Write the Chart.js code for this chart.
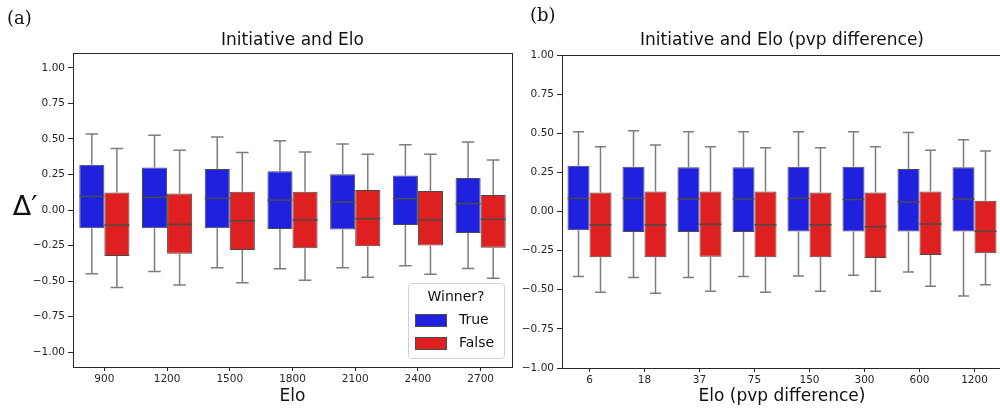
<!DOCTYPE html>
<html>
<head>
<meta charset="utf-8">
<script src="https://cdn.jsdelivr.net/npm/chart.js@4.4.1/dist/chart.umd.min.js"></script>
<style>
    html, body { margin: 0; padding: 0; background: #fff; overflow: hidden; }
    #wrap { position: relative; width: 1000px; height: 410px; overflow: hidden; }
    #eloCanvas { position: absolute; left: 0; top: 0; }
    #pvpCanvas { position: absolute; left: 520px; top: 0; }
</style>
</head>
<body>
<div id="wrap">
    <canvas id="eloCanvas" width="520" height="410"></canvas>
    <canvas id="pvpCanvas" width="490" height="410"></canvas>
</div>
<script>
// ---- panel (a): Elo buckets ----
const eloLabels = ["900", "1200", "1500", "1800", "2100", "2400", "2700"];
const eloTrueLow = [-0.449, -0.432, -0.406, -0.413, -0.406, -0.392, -0.411];
const eloTrueQ1  = [-0.129, -0.129, -0.129, -0.134, -0.138, -0.106, -0.162];
const eloTrueMed = [0.096, 0.089, 0.082, 0.070, 0.056, 0.080, 0.045];
const eloTrueQ3  = [0.319, 0.300, 0.289, 0.272, 0.251, 0.242, 0.225];
const eloTrueHigh = [0.535, 0.526, 0.514, 0.488, 0.465, 0.460, 0.479];
const eloFalseLow = [-0.545, -0.528, -0.512, -0.495, -0.474, -0.453, -0.481];
const eloFalseQ1  = [-0.324, -0.308, -0.282, -0.270, -0.256, -0.249, -0.265];
const eloFalseMed = [-0.106, -0.101, -0.075, -0.070, -0.061, -0.070, -0.066];
const eloFalseQ3  = [0.124, 0.117, 0.129, 0.129, 0.141, 0.134, 0.106];
const eloFalseHigh = [0.432, 0.420, 0.404, 0.408, 0.392, 0.392, 0.352];

// ---- panel (b): player-vs-player Elo difference buckets ----
const pvpLabels = ["6", "18", "37", "75", "150", "300", "600", "1200"];
const pvpTrueLow = [-0.416, -0.421, -0.421, -0.416, -0.412, -0.408, -0.387, -0.540];
const pvpTrueQ1  = [-0.120, -0.131, -0.131, -0.131, -0.127, -0.127, -0.127, -0.127];
const pvpTrueMed = [0.084, 0.084, 0.080, 0.080, 0.084, 0.076, 0.061, 0.080];
const pvpTrueQ3  = [0.293, 0.286, 0.282, 0.282, 0.286, 0.286, 0.272, 0.282];
const pvpTrueHigh = [0.510, 0.516, 0.510, 0.510, 0.510, 0.510, 0.504, 0.459];
const pvpFalseLow = [-0.516, -0.523, -0.510, -0.516, -0.510, -0.510, -0.478, -0.468];
const pvpFalseQ1  = [-0.293, -0.293, -0.289, -0.293, -0.293, -0.297, -0.278, -0.267];
const pvpFalseMed = [-0.085, -0.085, -0.082, -0.085, -0.085, -0.097, -0.080, -0.127];
const pvpFalseQ3  = [0.122, 0.127, 0.127, 0.127, 0.122, 0.122, 0.127, 0.069];
const pvpFalseHigh = [0.414, 0.425, 0.414, 0.408, 0.408, 0.414, 0.391, 0.387];

const eloYTicks = [1.0, 0.75, 0.5, 0.25, 0, -0.25, -0.5, -0.75, -1.0];
const pvpYTicks = [1.0, 0.75, 0.5, 0.25, 0, -0.25, -0.5, -0.75, -1.0];

const winnerLabels = ["True", "False"];
const winnerColors = ["rgb(32,32,223)", "rgb(223,32,32)"];

const FONT = "'DejaVu Sans', sans-serif";
const EDGE = "#4a4a4a";
const WHISKER = "#7d7d7d";

function fmtTick(v) {
    return (v < 0 ? "\u2212" : "") + Math.abs(v).toFixed(2);
}

// whiskers, caps, medians and the frame around the plot area
const boxPlotPlugin = {
    id: "boxPlot",
    afterDatasetsDraw(chart, args, opts) {
        const ctx = chart.ctx;
        const y = chart.scales.y;
        const area = chart.chartArea;
        ctx.save();
        opts.stats.forEach((s, i) => {
            const meta = chart.getDatasetMeta(i);
            meta.data.forEach((bar, j) => {
                const half = bar.width / 2;
                const cap = bar.width / 4;
                const pHi = y.getPixelForValue(s.high[j]);
                const pLo = y.getPixelForValue(s.low[j]);
                const pQ3 = y.getPixelForValue(s.q3[j]);
                const pQ1 = y.getPixelForValue(s.q1[j]);
                ctx.strokeStyle = WHISKER;
                ctx.lineWidth = 1.5;
                ctx.beginPath();
                ctx.moveTo(bar.x, pQ3); ctx.lineTo(bar.x, pHi);
                ctx.moveTo(bar.x - cap, pHi); ctx.lineTo(bar.x + cap, pHi);
                ctx.moveTo(bar.x, pQ1); ctx.lineTo(bar.x, pLo);
                ctx.moveTo(bar.x - cap, pLo); ctx.lineTo(bar.x + cap, pLo);
                ctx.stroke();
                const pMed = y.getPixelForValue(s.med[j]);
                ctx.strokeStyle = EDGE;
                ctx.lineWidth = 1.5;
                ctx.beginPath();
                ctx.moveTo(bar.x - half, pMed); ctx.lineTo(bar.x + half, pMed);
                ctx.stroke();
            });
        });
        ctx.strokeStyle = "#262626";
        ctx.lineWidth = 1;
        ctx.strokeRect(Math.round(area.left) + 0.5, Math.round(area.top) + 0.5,
            Math.round(area.right - area.left), Math.round(area.bottom - area.top));
        ctx.restore();
    }
};

// titles, axis labels, panel letter and the legend
const textPlugin = {
    id: "panelText",
    afterDraw(chart, args, opts) {
        const ctx = chart.ctx;
        const area = chart.chartArea;
        const cx = (area.left + area.right) / 2;
        ctx.save();
        ctx.fillStyle = "#111";
        ctx.textBaseline = "middle";

        ctx.font = "18px 'DejaVu Serif', serif";
        ctx.textAlign = "left";
        ctx.fillText(opts.letter, opts.letterX, opts.letterY);

        ctx.font = "17px " + FONT;
        ctx.textAlign = "center";
        ctx.fillText(opts.title, cx, 41);

        ctx.font = "17px " + FONT;
        ctx.fillText(opts.xTitle, cx, 397);

        if (opts.yTitle) {
            ctx.font = "27px " + FONT;
            ctx.fillText(opts.yTitle, 25, 208);
        }

        if (opts.legend) {
            const lx = 408, ly = 283, lw = 96, lh = 75;
            ctx.fillStyle = "rgba(255,255,255,0.8)";
            ctx.strokeStyle = "#d0d0d0";
            ctx.lineWidth = 1;
            ctx.beginPath();
            ctx.roundRect(lx + 0.5, ly + 0.5, lw, lh, 3);
            ctx.fill();
            ctx.stroke();
            ctx.fillStyle = "#111";
            ctx.font = "14px " + FONT;
            ctx.textAlign = "center";
            ctx.fillText("Winner?", lx + lw / 2, ly + 14);
            chart.data.datasets.forEach((ds, i) => {
                const ry = ly + 37 + i * 23;
                ctx.fillStyle = ds.backgroundColor;
                ctx.fillRect(lx + 7, ry - 6, 31, 12);
                ctx.strokeStyle = EDGE;
                ctx.strokeRect(lx + 7.5, ry - 5.5, 31, 12);
                ctx.fillStyle = "#111";
                ctx.textAlign = "left";
                ctx.fillText(ds.label, lx + 51, ry);
            });
        }
        ctx.restore();
    }
};

function makePanel(canvasId, cfg) {
    const datasets = winnerLabels.map((name, i) => ({
        label: name,
        data: cfg.q1[i].map((lo, j) => [lo, cfg.q3[i][j]]),
        backgroundColor: winnerColors[i],
        borderColor: EDGE,
        borderWidth: 1,
        borderSkipped: false,
        barPercentage: 1.0,
        categoryPercentage: 0.8
    }));
    const stats = winnerLabels.map((name, i) => ({
        low: cfg.low[i], q1: cfg.q1[i], med: cfg.med[i], q3: cfg.q3[i], high: cfg.high[i]
    }));
    return new Chart(document.getElementById(canvasId).getContext("2d"), {
        type: "bar",
        data: { labels: cfg.labels, datasets: datasets },
        options: {
            responsive: false,
            animation: false,
            layout: { padding: { top: cfg.top, right: cfg.right, left: 0, bottom: 0 } },
            scales: {
                x: {
                    offset: true,
                    grid: { drawOnChartArea: false, offset: false, tickLength: 4, color: "#262626" },
                    border: { display: false },
                    ticks: { color: "#262626", font: { family: FONT, size: 10.5 }, padding: 2, maxRotation: 0 },
                    afterFit: s => { s.height = cfg.xHeight; }
                },
                y: {
                    min: cfg.yMin,
                    max: cfg.yMax,
                    grid: { drawOnChartArea: false, tickLength: 5, color: "#262626" },
                    border: { display: false },
                    ticks: { color: "#262626", font: { family: FONT, size: 10.5 }, padding: 3, callback: fmtTick },
                    afterBuildTicks: s => { s.ticks = cfg.yTicks.map(v => ({ value: v })); },
                    afterFit: s => { s.width = cfg.yWidth; }
                }
            },
            plugins: {
                legend: { display: false },
                tooltip: { enabled: false },
                boxPlot: { stats: stats },
                panelText: cfg.text
            }
        },
        plugins: [boxPlotPlugin, textPlugin]
    });
}

makePanel("eloCanvas", {
    labels: eloLabels,
    low: [eloTrueLow, eloFalseLow],
    q1: [eloTrueQ1, eloFalseQ1],
    med: [eloTrueMed, eloFalseMed],
    q3: [eloTrueQ3, eloFalseQ3],
    high: [eloTrueHigh, eloFalseHigh],
    yMin: -1.105, yMax: 1.105, yTicks: eloYTicks,
    top: 53, right: 8, yWidth: 73, xHeight: 43,
    text: { letter: "(a)", letterX: 7, letterY: 19, title: "Initiative and Elo",
            xTitle: "Elo", yTitle: "\u0394\u2032", legend: true }
});

makePanel("pvpCanvas", {
    labels: pvpLabels,
    low: [pvpTrueLow, pvpFalseLow],
    q1: [pvpTrueQ1, pvpFalseQ1],
    med: [pvpTrueMed, pvpFalseMed],
    q3: [pvpTrueQ3, pvpFalseQ3],
    high: [pvpTrueHigh, pvpFalseHigh],
    yMin: -1.0, yMax: 1.0, yTicks: pvpYTicks,
    top: 55, right: 8, yWidth: 42, xHeight: 42,
    text: { letter: "(b)", letterX: 10, letterY: 16, title: "Initiative and Elo (pvp difference)",
            xTitle: "Elo (pvp difference)", yTitle: null, legend: false }
});
</script>
</body>
</html>
